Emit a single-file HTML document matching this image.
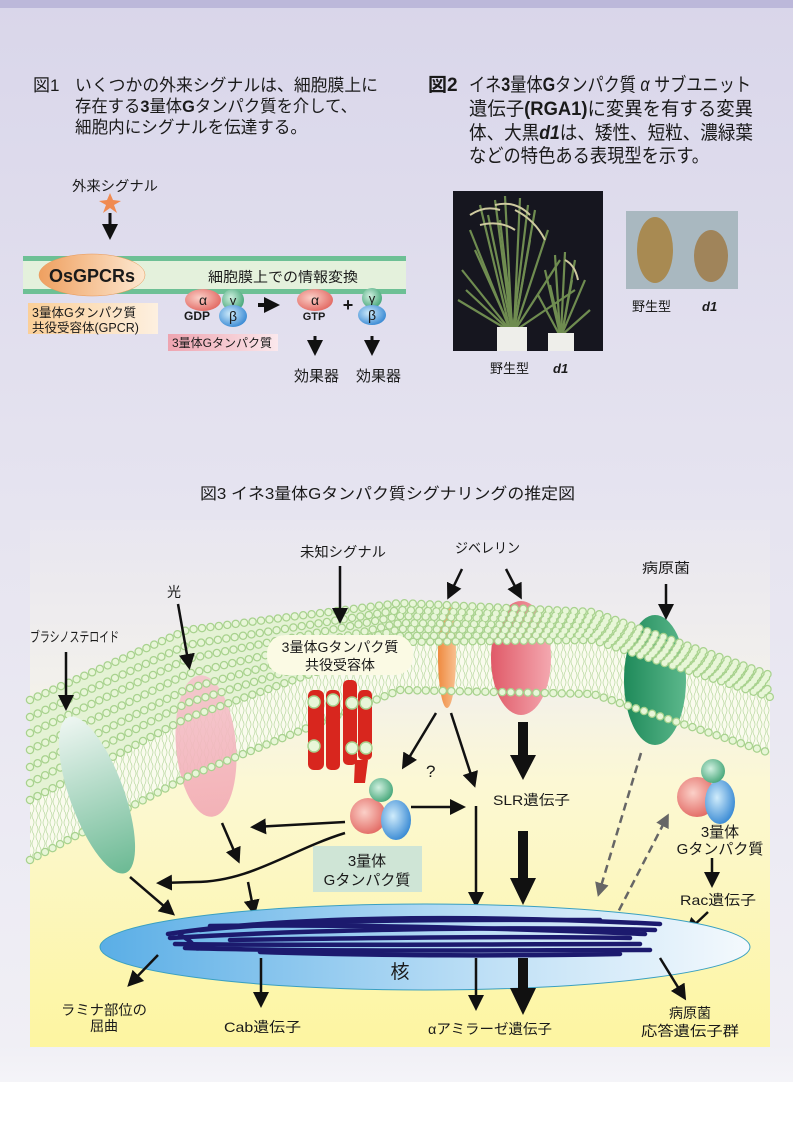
<!DOCTYPE html>
<html><head><meta charset="utf-8"><style>
html,body{margin:0;padding:0;background:#fff}
svg{display:block}
text{font-family:"Liberation Sans","Noto Sans CJK JP",sans-serif;fill:#1a1a1a}
</style></head><body>
<svg width="793" height="1124" viewBox="0 0 793 1124" xmlns="http://www.w3.org/2000/svg">
<defs>
<linearGradient id="pg" x1="0" y1="0" x2="0" y2="1">
<stop offset="0" stop-color="#d9d6ea"/><stop offset="0.46" stop-color="#e6e4f0"/><stop offset="0.93" stop-color="#f0eff5"/><stop offset="1" stop-color="#fafafc"/></linearGradient>
<linearGradient id="f3" x1="0" y1="0" x2="0" y2="1">
<stop offset="0" stop-color="#e8e6f0"/><stop offset="0.3" stop-color="#f2f0ec"/><stop offset="0.5" stop-color="#fcf8d4"/><stop offset="1" stop-color="#fdf5a0"/></linearGradient>
<linearGradient id="osg" x1="0" y1="0" x2="1" y2="0"><stop offset="0" stop-color="#efa060"/><stop offset="1" stop-color="#fde8d0"/></linearGradient>
<linearGradient id="lbl1" x1="0" y1="0" x2="1" y2="0"><stop offset="0" stop-color="#fbcf98"/><stop offset="1" stop-color="#fdf0e0"/></linearGradient>
<linearGradient id="lbl2" x1="0" y1="0" x2="1" y2="0"><stop offset="0" stop-color="#eea4b0"/><stop offset="1" stop-color="#fbe8ec"/></linearGradient>
<radialGradient id="ra" cx="0.4" cy="0.4" r="0.7"><stop offset="0" stop-color="#fbd0c8"/><stop offset="1" stop-color="#e0605a"/></radialGradient>
<radialGradient id="gb" cx="0.4" cy="0.4" r="0.7"><stop offset="0" stop-color="#d0f0e0"/><stop offset="1" stop-color="#3aa070"/></radialGradient>
<radialGradient id="bb" cx="0.4" cy="0.4" r="0.7"><stop offset="0" stop-color="#d0ecfb"/><stop offset="1" stop-color="#2a80d0"/></radialGradient>
<linearGradient id="nuc" x1="0" y1="0" x2="1" y2="0"><stop offset="0" stop-color="#5aaee6"/><stop offset="0.6" stop-color="#bfe0f6"/><stop offset="1" stop-color="#f4f9fd"/></linearGradient>
<linearGradient id="brs" x1="0" y1="0" x2="0" y2="1"><stop offset="0" stop-color="#eef6f2"/><stop offset="1" stop-color="#6cba94"/></linearGradient>
<linearGradient id="pink" x1="0" y1="0" x2="0" y2="1"><stop offset="0" stop-color="#f5c4cc"/><stop offset="1" stop-color="#f2aab4"/></linearGradient>
<linearGradient id="red2" x1="0" y1="0" x2="1" y2="0"><stop offset="0" stop-color="#e05a68"/><stop offset="1" stop-color="#f4a8b0"/></linearGradient>
<linearGradient id="grn2" x1="0" y1="0" x2="1" y2="0"><stop offset="0" stop-color="#1f8a5a"/><stop offset="1" stop-color="#5cb88c"/></linearGradient>
<linearGradient id="org" x1="0" y1="0" x2="1" y2="0"><stop offset="0" stop-color="#ef8a40"/><stop offset="1" stop-color="#f8c090"/></linearGradient>
<pattern id="tails" width="7" height="14" patternUnits="userSpaceOnUse">
<path d="M2,0 q2,3 0,7 q-2,4 0,7 M5,0 q-2,4 0,7 q2,3 0,7" stroke="#b8d8a0" stroke-width="0.7" fill="none"/></pattern>
<marker id="ahL" markerWidth="16" markerHeight="16" refX="12" refY="8" orient="auto" markerUnits="userSpaceOnUse" viewBox="0 0 16 16"><path d="M0,0 L16,8 L0,16 z" fill="#111"/></marker>
<marker id="ahG" markerWidth="14" markerHeight="14" refX="10" refY="7" orient="auto" markerUnits="userSpaceOnUse" viewBox="0 0 14 14"><path d="M0,0 L14,7 L0,14 z" fill="#666"/></marker>
</defs>

<rect width="793" height="1124" fill="url(#pg)"/>
<rect y="1082" width="793" height="42" fill="#fff"/>
<rect width="793" height="8" fill="#bcb8da"/>

<!-- FIG 1 text -->
<text x="33" y="91" font-size="17">図1</text>
<text x="75" y="91" font-size="17" textLength="303" lengthAdjust="spacingAndGlyphs">いくつかの外来シグナルは、細胞膜上に</text>
<text x="75" y="112" font-size="17" textLength="282" lengthAdjust="spacingAndGlyphs">存在する<tspan font-weight="bold">3</tspan>量体<tspan font-weight="bold">G</tspan>タンパク質を介して、</text>
<text x="75" y="133" font-size="17" textLength="232" lengthAdjust="spacingAndGlyphs">細胞内にシグナルを伝達する。</text>

<!-- FIG 2 text -->
<text x="428" y="91" font-size="19" font-weight="bold">図2</text>
<text x="469" y="91" font-size="19" textLength="282" lengthAdjust="spacingAndGlyphs">イネ<tspan font-weight="bold">3</tspan>量体<tspan font-weight="bold">G</tspan>タンパク質 <tspan font-style="italic">α</tspan> サブユニット</text>
<text x="469" y="115" font-size="19" textLength="284" lengthAdjust="spacingAndGlyphs">遺伝子<tspan font-weight="bold">(RGA1)</tspan>に変異を有する変異</text>
<text x="469" y="139" font-size="19" textLength="284" lengthAdjust="spacingAndGlyphs">体、大黒<tspan font-weight="bold" font-style="italic">d1</tspan>は、矮性、短粒、濃緑葉</text>
<text x="469" y="162" font-size="19" textLength="240" lengthAdjust="spacingAndGlyphs">などの特色ある表現型を示す。</text>

<!-- FIG 1 diagram -->
<text x="72" y="191" font-size="14" textLength="86" lengthAdjust="spacingAndGlyphs">外来シグナル</text>
<path d="M110,193 L113,200 L121,201 L114,205 L117,213 L110,208 L103,213 L106,205 L99,201 L107,200 Z" fill="#f08a50"/>
<line x1="110" y1="213" x2="110" y2="236" stroke="#111" stroke-width="3" marker-end="url(#ahL)"/>
<rect x="23" y="258" width="383" height="33" fill="#e4f1dc"/>
<rect x="23" y="256" width="383" height="5" fill="#6dc095"/>
<rect x="23" y="289" width="383" height="5" fill="#6dc095"/>
<ellipse cx="92" cy="275" rx="53" ry="21" fill="url(#osg)" stroke="#e89858" stroke-width="0.5"/>
<text x="92" y="282" font-size="18" font-weight="bold" text-anchor="middle">OsGPCRs</text>
<text x="208" y="282" font-size="14" textLength="150" lengthAdjust="spacingAndGlyphs">細胞膜上での情報変換</text>
<rect x="28" y="303" width="130" height="31" fill="url(#lbl1)"/>
<text x="32" y="317" font-size="12.5">3量体Gタンパク質</text>
<text x="32" y="332" font-size="12.5">共役受容体(GPCR)</text>
<ellipse cx="203" cy="300" rx="18" ry="11" fill="url(#ra)"/>
<text x="203" y="305" font-size="14" text-anchor="middle" font-family="Liberation Serif">α</text>
<ellipse cx="233" cy="300" rx="11" ry="11" fill="url(#gb)"/>
<text x="233" y="305" font-size="13" text-anchor="middle" font-family="Liberation Serif">γ</text>
<ellipse cx="233" cy="316" rx="14" ry="11" fill="url(#bb)"/>
<text x="233" y="321" font-size="14" text-anchor="middle" font-family="Liberation Serif">β</text>
<text x="197" y="320" font-size="12" font-weight="bold" text-anchor="middle">GDP</text>
<line x1="258" y1="305" x2="276" y2="305" stroke="#111" stroke-width="4" marker-end="url(#ahL)"/>
<ellipse cx="315" cy="300" rx="18" ry="11" fill="url(#ra)"/>
<text x="315" y="305" font-size="14" text-anchor="middle" font-family="Liberation Serif">α</text>
<text x="314" y="320" font-size="11" font-weight="bold" text-anchor="middle">GTP</text>
<text x="348" y="311" font-size="18" font-weight="bold" text-anchor="middle">+</text>
<ellipse cx="372" cy="298" rx="10" ry="10" fill="url(#gb)"/>
<text x="372" y="303" font-size="13" text-anchor="middle" font-family="Liberation Serif">γ</text>
<ellipse cx="372" cy="315" rx="14" ry="10" fill="url(#bb)"/>
<text x="372" y="320" font-size="14" text-anchor="middle" font-family="Liberation Serif">β</text>
<rect x="168" y="334" width="110" height="17" fill="url(#lbl2)"/>
<text x="172" y="347" font-size="12">3量体Gタンパク質</text>
<line x1="315" y1="336" x2="315" y2="352" stroke="#111" stroke-width="3" marker-end="url(#ahL)"/>
<line x1="372" y1="336" x2="372" y2="352" stroke="#111" stroke-width="3" marker-end="url(#ahL)"/>
<text x="294" y="381" font-size="15">効果器</text>
<text x="356" y="381" font-size="15">効果器</text>

<!-- FIG 2 photos -->
<rect x="453" y="191" width="150" height="160" fill="#16161f"/>
<g stroke="#6f8c50" stroke-width="2.2" fill="none">
<path d="M510,330 L470,230"/><path d="M510,330 L480,205"/><path d="M512,330 L495,200"/><path d="M512,330 L505,196"/><path d="M514,330 L520,198"/><path d="M514,330 L535,210"/><path d="M515,330 L548,230"/><path d="M515,330 L560,260"/><path d="M510,330 L462,270"/><path d="M508,330 L458,300"/><path d="M516,330 L575,290"/><path d="M512,330 L488,215"/><path d="M513,330 L528,205"/>
<path d="M511,330 L475,250"/><path d="M513,330 L500,220"/><path d="M514,330 L530,240"/><path d="M509,330 L466,290"/>
<path d="M560,334 L545,270"/><path d="M560,334 L555,255"/><path d="M561,334 L565,252"/><path d="M562,334 L575,260"/><path d="M562,334 L585,280"/><path d="M559,334 L538,295"/><path d="M563,334 L590,310"/><path d="M561,334 L550,285"/><path d="M562,334 L572,280"/>
</g>
<g stroke="#cfcaa0" stroke-width="2" fill="none">
<path d="M470,215 q15,-10 30,-5"/><path d="M495,205 q20,-5 35,10"/><path d="M515,210 q20,10 30,30"/><path d="M480,225 q20,-5 35,5"/><path d="M565,260 q10,5 13,20"/>
</g>
<rect x="497" y="327" width="30" height="24" fill="#eeeeea"/>
<rect x="548" y="333" width="26" height="18" fill="#eeeeea"/>
<text x="490" y="373" font-size="13">野生型</text>
<text x="553" y="373" font-size="13" font-weight="bold" font-style="italic">d1</text>
<rect x="626" y="211" width="112" height="78" fill="#a9b8c0"/>
<ellipse cx="655" cy="250" rx="18" ry="33" fill="#a88a52"/>
<ellipse cx="711" cy="256" rx="17" ry="26" fill="#a0845a"/>
<text x="632" y="311" font-size="13">野生型</text>
<text x="702" y="311" font-size="13" font-weight="bold" font-style="italic">d1</text>

<!-- FIG 3 -->
<text x="200" y="499" font-size="16" textLength="375" lengthAdjust="spacingAndGlyphs">図3 イネ3量体Gタンパク質シグナリングの推定図</text>
<rect x="30" y="520" width="740" height="527" fill="url(#f3)"/>

<path d="M30,700 L187,630 L400,603 L593,612 L770,675 L770,697 L593,640 L400,642 L187,718 L30,800 Z" fill="#e4f2d4"/>
<path d="M30,800 L187,718 L400,642 L593,640 L770,697 L770,753 L593,694 L400,690 L187,777 L30,860 Z" fill="#fafbee"/>
<path d="M30,800 L187,718 L400,642 L593,640 L770,697 L770,753 L593,694 L400,690 L187,777 L30,860 Z" fill="url(#tails)"/>

<ellipse cx="206" cy="746" rx="30" ry="71" transform="rotate(-5 206 746)" fill="url(#pink)" opacity="0.9"/>
<ellipse cx="447" cy="655" rx="9" ry="53" fill="url(#org)"/>
<ellipse cx="521" cy="658" rx="30" ry="57" fill="url(#red2)"/>
<ellipse cx="655" cy="680" rx="31" ry="65" fill="url(#grn2)"/>

<g fill="none" stroke-linecap="round" stroke-linejoin="round" stroke-dasharray="0 8.5">
<g stroke="#a8d28e" stroke-width="8.5">
<polyline points="30,700 187,630 400,603 593,612 770,675"/>
<polyline points="30,717 187,645 400,610 593,617 770,679"/>
<polyline points="30,733 187,659 400,616 593,621 770,682"/>
<polyline points="30,750 187,674 400,623 593,626 770,686"/>
<polyline points="30,767 187,689 400,629 593,631 770,690"/>
<polyline points="30,783 187,703 400,636 593,635 770,693"/>
<polyline points="30,800 187,718 400,642 593,640 770,697"/>
<polyline points="30,860 187,777 400,690 593,694 770,753"/>
</g>
<g stroke="#e8f6d8" stroke-width="6">
<polyline points="30,700 187,630 400,603 593,612 770,675"/>
<polyline points="30,717 187,645 400,610 593,617 770,679"/>
<polyline points="30,733 187,659 400,616 593,621 770,682"/>
<polyline points="30,750 187,674 400,623 593,626 770,686"/>
<polyline points="30,767 187,689 400,629 593,631 770,690"/>
<polyline points="30,783 187,703 400,636 593,635 770,693"/>
<polyline points="30,800 187,718 400,642 593,640 770,697"/>
<polyline points="30,860 187,777 400,690 593,694 770,753"/>
</g>
</g>

<ellipse cx="97" cy="795" rx="27" ry="83" transform="rotate(-20 97 795)" fill="url(#brs)"/>

<g fill="#d8261e">
<rect x="308" y="690" width="16" height="80" rx="6"/>
<rect x="326" y="690" width="14" height="80" rx="5"/>
<rect x="343" y="680" width="14" height="85" rx="5"/>
<rect x="358" y="690" width="14" height="70" rx="5"/>
<path d="M355,760 L368,760 L365,783 L354,783 Z"/>
</g>
<g fill="#e8f6d8" stroke="#a8d28e" stroke-width="1.5">
<circle cx="314" cy="702" r="6"/><circle cx="333" cy="700" r="6"/><circle cx="352" cy="703" r="6"/><circle cx="366" cy="703" r="6"/>
<circle cx="314" cy="746" r="6"/><circle cx="352" cy="748" r="6"/><circle cx="366" cy="748" r="6"/>
</g>

<rect x="267" y="635" width="146" height="40" rx="18" fill="#fbfae4"/>
<text x="340" y="652" font-size="14" text-anchor="middle">3量体Gタンパク質</text>
<text x="340" y="670" font-size="14" text-anchor="middle">共役受容体</text>

<text x="300" y="557" font-size="14" textLength="86" lengthAdjust="spacingAndGlyphs">未知シグナル</text>
<line x1="340" y1="566" x2="340" y2="620" stroke="#111" stroke-width="2.5" marker-end="url(#ahL)"/>
<text x="455" y="553" font-size="14" textLength="65" lengthAdjust="spacingAndGlyphs">ジベレリン</text>
<line x1="462" y1="569" x2="449" y2="596" stroke="#111" stroke-width="2.5" marker-end="url(#ahL)"/>
<line x1="506" y1="569" x2="520" y2="596" stroke="#111" stroke-width="2.5" marker-end="url(#ahL)"/>
<text x="642" y="573" font-size="14" textLength="48" lengthAdjust="spacingAndGlyphs">病原菌</text>
<line x1="666" y1="584" x2="666" y2="616" stroke="#111" stroke-width="2.5" marker-end="url(#ahL)"/>
<text x="167" y="597" font-size="14">光</text>
<line x1="178" y1="604" x2="189" y2="666" stroke="#111" stroke-width="2.5" marker-end="url(#ahL)"/>
<text x="30" y="642" font-size="14" textLength="89" lengthAdjust="spacingAndGlyphs">ブラシノステロイド</text>
<line x1="66" y1="652" x2="66" y2="707" stroke="#111" stroke-width="2.5" marker-end="url(#ahL)"/>

<circle cx="368" cy="816" r="18" fill="url(#ra)"/>
<ellipse cx="396" cy="820" rx="15" ry="20" fill="url(#bb)"/>
<circle cx="381" cy="790" r="12" fill="url(#gb)"/>
<rect x="313" y="846" width="109" height="46" fill="#cfe5d6"/>
<text x="367" y="866" font-size="15" text-anchor="middle">3量体</text>
<text x="367" y="885" font-size="15" text-anchor="middle">Gタンパク質</text>

<line x1="345" y1="822" x2="254" y2="827" stroke="#111" stroke-width="2.5" marker-end="url(#ahL)"/>
<path d="M345,833 C290,850 250,882 195,882 L160,883" stroke="#111" stroke-width="2.5" fill="none" marker-end="url(#ahL)"/>
<line x1="222" y1="823" x2="238" y2="860" stroke="#111" stroke-width="2.5" marker-end="url(#ahL)"/>
<line x1="248" y1="882" x2="254" y2="912" stroke="#111" stroke-width="2.5" marker-end="url(#ahL)"/>
<line x1="130" y1="877" x2="172" y2="913" stroke="#111" stroke-width="2.5" marker-end="url(#ahL)"/>
<line x1="436" y1="713" x2="404" y2="766" stroke="#111" stroke-width="2.5" marker-end="url(#ahL)"/>
<text x="426" y="777" font-size="17">?</text>
<line x1="451" y1="713" x2="474" y2="784" stroke="#111" stroke-width="2.5" marker-end="url(#ahL)"/>
<line x1="411" y1="807" x2="462" y2="807" stroke="#111" stroke-width="2.5" marker-end="url(#ahL)"/>
<text x="493" y="805" font-size="14" textLength="77" lengthAdjust="spacingAndGlyphs">SLR遺伝子</text>
<line x1="476" y1="806" x2="476" y2="904" stroke="#111" stroke-width="2.5" marker-end="url(#ahL)"/>
<path d="M518,722 L528,722 L528,755 L536,755 L523,780 L510,755 L518,755 Z" fill="#111"/>
<path d="M518,831 L528,831 L528,878 L536,878 L523,905 L510,878 L518,878 Z" fill="#111"/>
<line x1="641" y1="753" x2="599" y2="893" stroke="#666" stroke-width="2.5" stroke-dasharray="8 5" marker-end="url(#ahG)"/>
<line x1="613" y1="922" x2="667" y2="817" stroke="#666" stroke-width="2.5" stroke-dasharray="8 5" marker-end="url(#ahG)"/>

<circle cx="697" cy="797" r="20" fill="url(#ra)"/>
<ellipse cx="720" cy="802" rx="15" ry="22" fill="url(#bb)"/>
<circle cx="713" cy="771" r="12" fill="url(#gb)"/>
<text x="720" y="837" font-size="15" text-anchor="middle">3量体</text>
<text x="720" y="854" font-size="15" text-anchor="middle">Gタンパク質</text>
<line x1="712" y1="858" x2="712" y2="884" stroke="#111" stroke-width="2.5" marker-end="url(#ahL)"/>
<text x="680" y="905" font-size="14" textLength="76" lengthAdjust="spacingAndGlyphs">Rac遺伝子</text>
<line x1="708" y1="912" x2="688" y2="931" stroke="#111" stroke-width="2.5" marker-end="url(#ahL)"/>

<ellipse cx="425" cy="947" rx="325" ry="43" fill="url(#nuc)" stroke="#3aa0c0" stroke-width="1"/>
<g stroke="#1c1a6e" stroke-width="4.5" fill="none" stroke-linecap="round">
<path d="M168,934 C260,920 420,912 660,924"/>
<path d="M170,938 C300,930 500,926 655,930"/>
<path d="M175,944 C300,946 480,944 640,944"/>
<path d="M185,948 C320,952 520,950 650,950"/>
<path d="M200,930 C330,918 480,920 600,920"/>
<path d="M230,940 C360,938 500,936 630,938"/>
<path d="M260,952 C380,956 520,956 620,954"/>
<path d="M210,926 C350,924 500,928 645,934"/>
<path d="M180,935 C200,945 190,950 200,948"/>
</g>
<text x="400" y="978" font-size="19" text-anchor="middle">核</text>
<line x1="158" y1="955" x2="130" y2="984" stroke="#111" stroke-width="2.5" marker-end="url(#ahL)"/>
<line x1="261" y1="958" x2="261" y2="1004" stroke="#111" stroke-width="2.5" marker-end="url(#ahL)"/>
<line x1="476" y1="958" x2="476" y2="1007" stroke="#111" stroke-width="2.5" marker-end="url(#ahL)"/>
<path d="M518,958 L528,958 L528,988 L536,988 L523,1015 L510,988 L518,988 Z" fill="#111"/>
<line x1="660" y1="958" x2="684" y2="997" stroke="#111" stroke-width="2.5" marker-end="url(#ahL)"/>
<text x="104" y="1015" font-size="14" text-anchor="middle" textLength="86" lengthAdjust="spacingAndGlyphs">ラミナ部位の</text>
<text x="104" y="1031" font-size="14" text-anchor="middle">屈曲</text>
<text x="224" y="1032" font-size="14" textLength="77" lengthAdjust="spacingAndGlyphs">Cab遺伝子</text>
<text x="428" y="1034" font-size="14" textLength="124" lengthAdjust="spacingAndGlyphs">αアミラーゼ遺伝子</text>
<text x="690" y="1018" font-size="14" text-anchor="middle">病原菌</text>
<text x="690" y="1036" font-size="14" text-anchor="middle" textLength="98" lengthAdjust="spacingAndGlyphs">応答遺伝子群</text>
</svg>
</body></html>
